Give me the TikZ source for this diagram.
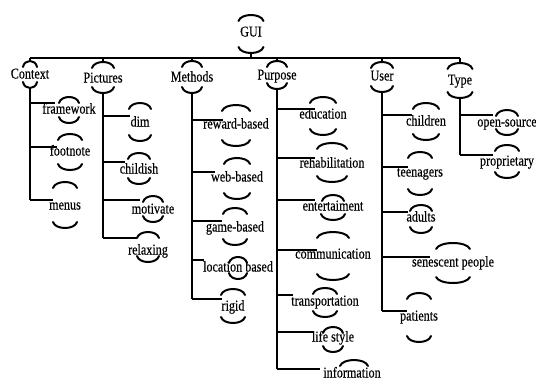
\documentclass[tikz,border=0pt]{standalone}
\usepackage{fontspec}
\setmainfont{Liberation Serif}[FakeStretch=0.81,FakeBold=0.3]
\begin{document}
\begin{tikzpicture}[x=1pt,y=-1pt,
  lbl/.style={inner sep=0pt,text height=10pt,text depth=3pt,font=\fontsize{15}{17}\selectfont},
  arcl/.style={line width=2pt,line cap=round},
  trunk/.style={line width=2.6pt},
  topline/.style={line width=2.2pt}]
\useasboundingbox[fill=white] (0,0) rectangle (536,383);
% name, x, y, text, topY, topW, botY, botW
\newcommand\gnode[8]{%
  \node[lbl] (#1) at (#2,#3) {#4};
  \coordinate (#1-t) at (#2,#5);
  \coordinate (#1-b) at (#2,#7);
  \draw[arcl] (#2-#6,#5+6) .. controls (#2-#6*0.8,#5-2) and (#2+#6*0.8,#5-2) .. (#2+#6,#5+6);
  \draw[arcl] (#2-#8,#7-6) .. controls (#2-#8*0.8,#7+2) and (#2+#8*0.8,#7+2) .. (#2+#8,#7-6);
}
% name, xvertical, y, xend
\newcommand\branch[4]{%
  \coordinate (#1-j) at (#2,#3);
  \coordinate (#1-l) at (#4,#3);
  \draw[trunk] (#1-j) -- (#1-l);
}
% root
\gnode{gui}{251}{33}{GUI}{15}{12.5}{53}{12.5}
% level 1
\gnode{context}{30}{75}{Context}{61}{7}{88}{7}
\gnode{pictures}{103}{79}{Pictures}{62}{11}{93}{11}
\gnode{methods}{192}{78}{Methods}{61}{10}{93}{10}
\gnode{purpose}{277}{76}{Purpose}{61}{10}{89}{10}
\gnode{user}{382}{77}{User}{62}{11}{92}{11}
\gnode{type}{460}{81}{Type}{63}{12.5}{98}{12.5}
% top bus
\coordinate (bus-gui) at (251,58);
\coordinate (bus-l) at (30,58);
\coordinate (bus-r) at (460,58);
\draw[topline] (bus-l) -- (bus-r);
\draw[trunk] (gui-b) -- (bus-gui);
\foreach \n/\x in {context/30,pictures/103,methods/192,purpose/277,user/382,type/460}{
  \coordinate (bus-\n) at (\x,58);
  \draw[trunk] (bus-\n) -- (\n-t);
}
% Context children
\gnode{framework}{69}{110}{framework}{97}{10}{123}{10}
\gnode{footnote}{70}{152}{footnote}{134}{12}{170}{12}
\gnode{menus}{65}{206}{menus}{182}{12}{228}{12}
\branch{framework}{30}{103}{55}
\branch{footnote}{30}{147}{57}
\branch{menus}{30}{200}{53}
\draw[trunk] (context-b) -- (menus-j);
% Pictures children
\gnode{dim}{140}{123}{dim}{103}{11}{141}{11}
\gnode{childish}{139}{170}{childish}{153}{11}{184}{11}
\gnode{motivate}{153}{210}{motivate}{196}{10}{222}{10}
\gnode{relaxing}{148}{251}{relaxing}{232}{11}{262}{11}
\branch{dim}{103}{116}{130}
\branch{childish}{103}{162}{125}
\branch{motivate}{103}{200}{140}
\branch{relaxing}{103}{238}{137}
\draw[trunk] (pictures-b) -- (relaxing-j);
% Methods children
\gnode{reward}{236}{125}{reward-based}{105}{14}{146}{14}
\gnode{web}{237}{178}{web-based}{158}{13}{199}{13}
\gnode{game}{235}{228}{game-based}{208}{12}{245}{12}
\gnode{location}{238}{268}{location based}{257}{9}{279}{9}
\gnode{rigid}{233}{307}{rigid}{289}{12}{323}{12}
\branch{reward}{192}{120}{223}
\branch{web}{192}{172}{215}
\branch{game}{192}{221}{222}
\branch{location}{192}{260}{204}
\branch{rigid}{192}{299}{222}
\draw[trunk] (methods-b) -- (rigid-j);
% Purpose children
\gnode{education}{323}{115}{education}{97}{13}{135}{13}
\gnode{rehab}{332}{164}{rehabilitation}{143}{15}{182}{15}
\gnode{entert}{333}{207}{entertaiment}{195}{11}{220}{12}
\gnode{commun}{333}{255}{communication}{232}{16}{280}{16}
\gnode{transp}{325}{302}{transportation}{288}{12}{317}{12}
\gnode{life}{333}{338}{life style}{327}{10}{352}{10}
\node[lbl] (information) at (352,374) {information};
\coordinate (information-t) at (354,360);
\draw[arcl] (340,366) .. controls (342.8,358) and (365.2,358) .. (368,366);
\branch{education}{277}{109}{315}
\branch{rehab}{277}{158}{315}
\branch{entert}{277}{200}{315}
\branch{commun}{277}{250}{317}
\branch{transp}{277}{295}{293}
\branch{life}{277}{332}{313}
\branch{information}{277}{369}{320}
\draw[trunk] (purpose-b) -- (information-j);
% User children
\gnode{children}{426}{122}{children}{103}{13}{140}{13}
\gnode{teen}{420}{173}{teenagers}{152}{12}{195}{12}
\gnode{adults}{421}{218}{adults}{205}{11}{233}{11}
\gnode{senescent}{453}{263}{senescent people}{243}{17}{283}{17}
\gnode{patients}{419}{317}{patients}{293}{12}{342}{12}
\branch{children}{382}{115}{412}
\branch{teen}{382}{167}{408}
\branch{adults}{382}{212}{408}
\branch{senescent}{382}{257}{430}
\branch{patients}{382}{311}{407}
\draw[trunk] (user-b) -- (patients-j);
% Type children
\gnode{open}{507}{123}{open-source}{110}{11}{135}{11}
\gnode{propr}{507}{162}{proprietary}{145}{12}{178}{12}
\branch{open}{460}{115}{493}
\branch{propr}{460}{155}{493}
\draw[trunk] (type-b) -- (propr-j);
\end{tikzpicture}
\end{document}
